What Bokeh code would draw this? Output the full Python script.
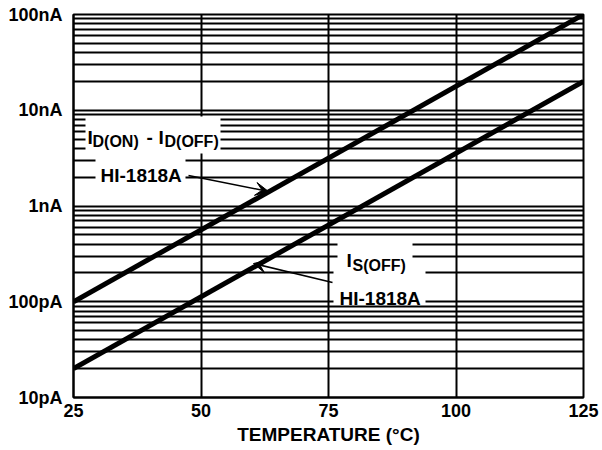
from bokeh.plotting import figure
from bokeh.models import (FixedTicker, CustomJSTickFormatter, Label, BoxAnnotation,
                          Arrow, VeeHead, Range1d)
from bokeh.embed import file_html
from bokeh.resources import INLINE

# ---- data ----
temperature = [25, 125]                 # deg C
id_on_minus_off = [100e-12, 100e-9]     # A, I_D(ON) - I_D(OFF), HI-1818A
is_off = [20e-12, 20e-9]                # A, I_S(OFF), HI-1818A

x_ticks = [25, 50, 75, 100, 125]
y_ticks = [1e-11, 1e-10, 1e-9, 1e-8, 1e-7]
y_tick_labels = ["10pA", "100pA", "1nA", "10nA", "100nA"]
y_minor = [m * 10.0 ** e for e in range(-11, -7) for m in range(2, 10)]

FONT = "Liberation Sans"

p = figure(width=602, height=450, x_axis_type="linear", y_axis_type="log",
           x_range=Range1d(25, 125), y_range=Range1d(1e-11, 1e-7),
           output_backend="svg", toolbar_location=None,
           min_border_left=73, min_border_right=19, min_border_top=14,
           min_border_bottom=53)
p.background_fill_color = "white"
p.border_fill_color = "white"
p.outline_line_color = "black"
p.outline_line_width = 2

# axes
p.xaxis.ticker = FixedTicker(ticks=x_ticks, minor_ticks=[])
p.yaxis.ticker = FixedTicker(ticks=y_ticks, minor_ticks=y_minor)
p.yaxis.formatter = CustomJSTickFormatter(args=dict(labels=y_tick_labels),
                                          code="return labels[index]")
for ax in (p.xaxis, p.yaxis):
    ax.axis_line_color = "black"
    ax.axis_line_width = 2
    ax.major_tick_line_color = None
    ax.minor_tick_line_color = None
    ax.major_tick_out = 0
    ax.minor_tick_out = 0
    ax.major_label_text_font = FONT
    ax.major_label_text_font_style = "bold"
    ax.major_label_text_font_size = "18px"
    ax.major_label_text_color = "black"
p.yaxis.major_label_standoff = 11
p.xaxis.major_label_standoff = 6
p.xaxis.axis_label = "TEMPERATURE (°C)"
p.xaxis.axis_label_text_font = FONT
p.xaxis.axis_label_text_font_style = "bold"
p.xaxis.axis_label_text_font_size = "19px"
p.xaxis.axis_label_text_color = "black"
p.xaxis.axis_label_standoff = 4

# grid
p.xgrid.grid_line_color = "black"
p.xgrid.grid_line_width = 2
p.ygrid.grid_line_color = "black"
p.ygrid.grid_line_width = 2
p.ygrid.minor_grid_line_color = "black"
p.ygrid.minor_grid_line_width = 2

# data lines
p.line(temperature, id_on_minus_off, line_color="black", line_width=5)
p.line(temperature, is_off, line_color="black", line_width=5)

# ---- annotations (positions given in reference pixels, mapped to data) ----
def X(px):
    return 25 + (px - 73) * 100 / 510

def Y(py):
    return 10 ** (-7 - (py - 14) / 95.75)

def white_box(x0, x1, y0, y1):
    p.add_layout(BoxAnnotation(left=X(x0), right=X(x1), top=Y(y0), bottom=Y(y1),
                               fill_color="white", fill_alpha=1.0,
                               line_color=None, line_alpha=0))

white_box(85, 220, 116, 153)
white_box(95, 185, 153, 186)
white_box(337, 412, 239, 267)
white_box(333, 425, 267, 303)

def txt(s, px, py, size):
    p.add_layout(Label(x=X(px), y=Y(py), text=s, text_font=FONT,
                       text_font_style="bold", text_font_size=size,
                       text_color="black", text_align="left",
                       text_baseline="alphabetic"))

# I_D(ON) - I_D(OFF)
txt("I", 87, 137, "19px")
txt("D(ON)", 92, 141, "16px")
txt("-", 146, 137, "19px")
txt("I", 158, 137, "19px")
txt("D(OFF)", 164, 141, "16px")
txt("HI-1818A", 100, 175, "19px")

# I_S(OFF)
txt("I", 346, 260, "19px")
txt("S(OFF)", 352, 265, "16px")
txt("HI-1818A", 339, 298, "19px")

p.add_layout(Arrow(end=VeeHead(size=13, fill_color="black", line_color="black"),
                   x_start=X(188), y_start=Y(175), x_end=X(268), y_end=Y(191),
                   line_color="black", line_width=1.5))
p.add_layout(Arrow(end=VeeHead(size=13, fill_color="black", line_color="black"),
                   x_start=X(332), y_start=Y(282), x_end=X(253), y_end=Y(263),
                   line_color="black", line_width=1.5))

open("out.html", "w").write(file_html(p, INLINE))
